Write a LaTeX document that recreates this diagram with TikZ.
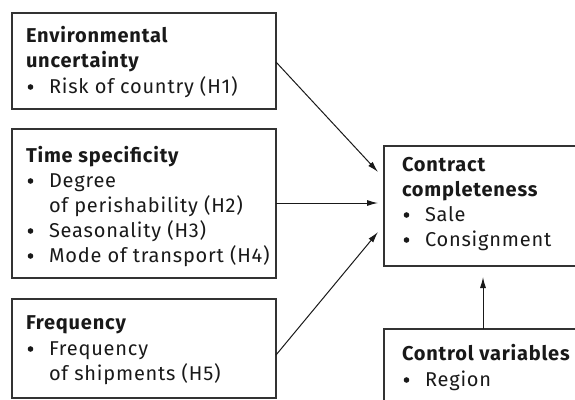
\documentclass[tikz,border=0pt]{standalone}
\usepackage{fontspec}
\setmainfont{Fira Sans}[LetterSpace=4]
\usetikzlibrary{arrows.meta}
\begin{document}
\begin{tikzpicture}[x=1pt,y=-1pt,
  box/.style={draw=black!80,line width=1.2pt},
  txt/.style={anchor=base west,inner sep=0pt,outer sep=0pt,font=\fontsize{20}{24}\selectfont,text=black!90},
  hd/.style={txt,font=\fontsize{20}{24}\selectfont\bfseries},
  dot/.style={fill=black!90},
  conn/.style={line width=1pt,black!90,-{Latex[length=11pt,width=6pt]}}]
\newcommand{\ind}{\hspace*{23pt}}
\useasboundingbox (0,0) rectangle (575,399);
\clip (0,0) rectangle (575,399);
% boxes
\draw[box] (12,13) rectangle (276,109);
\draw[box] (12,129) rectangle (276,278);
\draw[box] (12,299) rectangle (276,398);
\draw[box] (384,146) rectangle (600,266);
\draw[box] (384,329) rectangle (600,420);
% text box 1
\node[hd] (t11) at (26,42) {Environmental};
\node[hd] (t12) at (26,67) {uncertainty};
\node[txt] (t13) at (26,93) {\ind Risk of country (H1)};
% box 2
\node[hd] (t21) at (26,162) {Time specificity};
\node[txt] (t22) at (26,187) {\ind Degree};
\node[txt] (t23) at (26,212) {\ind of perishability (H2)};
\node[txt] (t24) at (26,237) {\ind Seasonality (H3)};
\node[txt] (t25) at (26,262) {\ind Mode of transport (H4)};
% box 3
\node[hd] (t31) at (26,329) {Frequency};
\node[txt] (t32) at (26,355) {\ind Frequency};
\node[txt] (t33) at (26,380) {\ind of shipments (H5)};
% box 4
\node[hd] (t41) at (402,171) {Contract};
\node[hd] (t42) at (402,196) {completeness};
\node[txt] (t43) at (402,221) {\ind Sale};
\node[txt] (t44) at (402,246) {\ind Consignment};
% box 5
\node[hd] (t51) at (402,360) {Control variables};
\node[txt] (t52) at (402,386) {\ind Region};
% bullets
\foreach \by in {93,187,237,262,355} \fill[dot] (30.5,\by-6) circle (2.8);
\foreach \by in {221,246,386} \fill[dot] (406.5,\by-6) circle (2.8);
% connector endpoints
\coordinate (s1) at (276,62);
\coordinate (e1) at (378,172);
\coordinate (s2) at (276,203);
\coordinate (e2) at (378,203);
\coordinate (s3) at (276,355);
\coordinate (e3) at (378,232);
\coordinate (s4) at (483,329);
\coordinate (e4) at (483,277);
\draw[conn] (s1) -- (e1);
\draw[conn] (s2) -- (e2);
\draw[conn] (s3) -- (e3);
\draw[conn] (s4) -- (e4);
\end{tikzpicture}
\end{document}
